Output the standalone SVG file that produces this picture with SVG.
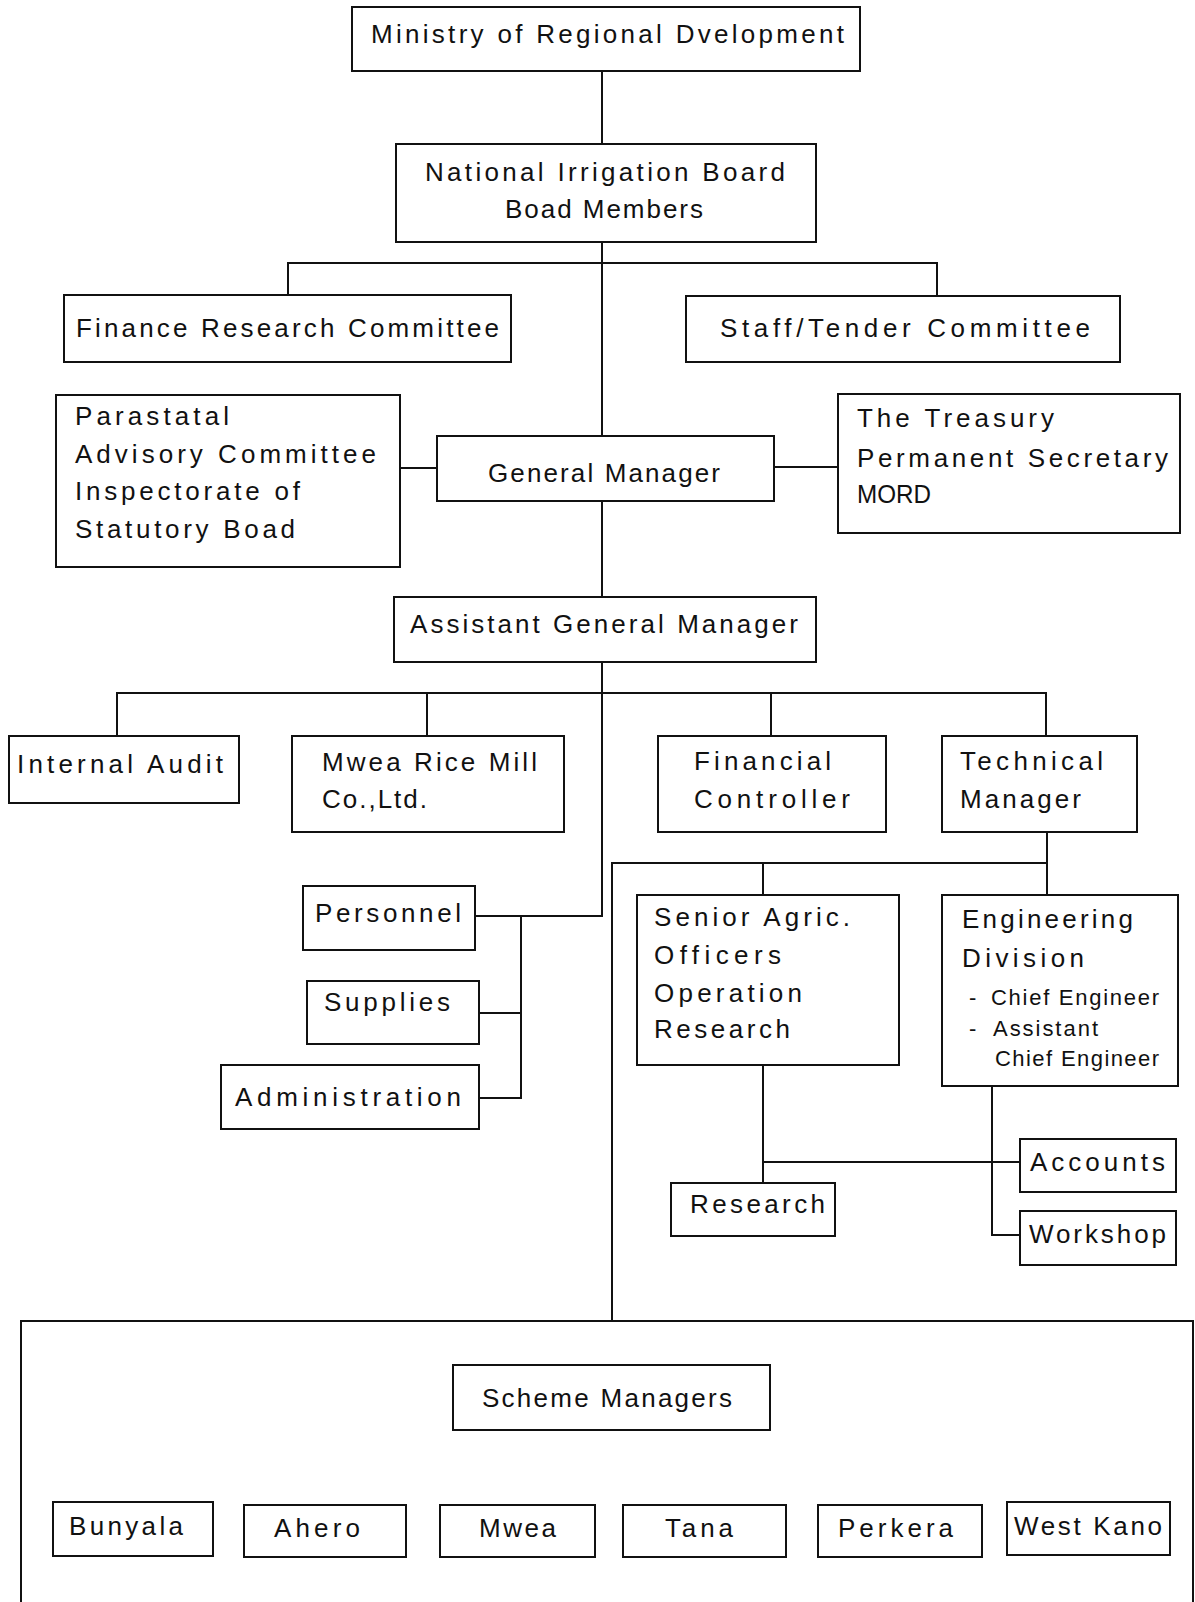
<svg xmlns="http://www.w3.org/2000/svg" width="1195" height="1602" viewBox="0 0 1195 1602">
<style>
.box{fill:#fff;stroke:#111;stroke-width:2}
.ln{fill:none;stroke:#111;stroke-width:2}
.t{font-family:"Liberation Sans",Arial,sans-serif;font-size:26px;fill:#111}
.s{font-family:"Liberation Sans",Arial,sans-serif;font-size:22px;fill:#111}
</style>
<rect width="1195" height="1602" fill="#fff"/>
<g id="connectors">
<path class="ln" d="M602,71 V144"/>
<path class="ln" d="M602,242 V436"/>
<path class="ln" d="M288,295 V263 H937 V296"/>
<path class="ln" d="M400,468 H437"/>
<path class="ln" d="M774,467 H838"/>
<path class="ln" d="M602,501 V597"/>
<path class="ln" d="M602,662 V916 H475"/>
<path class="ln" d="M117,736 V693 H1046 V736"/>
<path class="ln" d="M427,693 V736"/>
<path class="ln" d="M771,693 V736"/>
<path class="ln" d="M521,916 V1098 H479"/>
<path class="ln" d="M479,1013 H521"/>
<path class="ln" d="M1047,832 V863 H612 V1321"/>
<path class="ln" d="M763,863 V895"/>
<path class="ln" d="M1047,863 V895"/>
<path class="ln" d="M763,1065 V1183"/>
<path class="ln" d="M763,1162 H1020"/>
<path class="ln" d="M992,1086 V1235 H1020"/>
<path class="ln" d="M21,1602 V1321 H1193 V1602"/>
</g>
<g id="ministry"><rect class="box" x="352" y="7" width="508" height="64"/><text class="t" x="371" y="43" textLength="473" lengthAdjust="spacing">Ministry of Regional Dvelopment</text></g>
<g id="nib"><rect class="box" x="396" y="144" width="420" height="98"/><text class="t" x="425" y="181" textLength="360" lengthAdjust="spacing">National Irrigation Board</text><text class="t" x="505" y="218" textLength="198" lengthAdjust="spacing">Boad Members</text></g>
<g id="finance"><rect class="box" x="64" y="295" width="447" height="67"/><text class="t" x="76" y="337" textLength="423" lengthAdjust="spacing">Finance Research Committee</text></g>
<g id="staff"><rect class="box" x="686" y="296" width="434" height="66"/><text class="t" x="720" y="337" textLength="370" lengthAdjust="spacing">Staff/Tender  Committee</text></g>
<g id="parastatal"><rect class="box" x="56" y="395" width="344" height="172"/><text class="t" x="75" y="425" textLength="154" lengthAdjust="spacing">Parastatal</text><text class="t" x="75" y="463" textLength="301" lengthAdjust="spacing">Advisory Committee</text><text class="t" x="75" y="500" textLength="225" lengthAdjust="spacing">Inspectorate of</text><text class="t" x="75" y="538" textLength="220" lengthAdjust="spacing">Statutory Boad</text></g>
<g id="gm"><rect class="box" x="437" y="436" width="337" height="65"/><text class="t" x="488" y="482" textLength="232" lengthAdjust="spacing">General Manager</text></g>
<g id="treasury"><rect class="box" x="838" y="394" width="342" height="139"/><text class="t" x="857" y="427" textLength="197" lengthAdjust="spacing">The Treasury</text><text class="t" x="857" y="467" textLength="311" lengthAdjust="spacing">Permanent Secretary</text><text class="t" x="857" y="503" textLength="74" lengthAdjust="spacingAndGlyphs">MORD</text></g>
<g id="agm"><rect class="box" x="394" y="597" width="422" height="65"/><text class="t" x="410" y="633" textLength="388" lengthAdjust="spacing">Assistant General Manager</text></g>
<g id="audit"><rect class="box" x="9" y="736" width="230" height="67"/><text class="t" x="17" y="773" textLength="206" lengthAdjust="spacing">Internal Audit</text></g>
<g id="ricemill"><rect class="box" x="292" y="736" width="272" height="96"/><text class="t" x="322" y="771" textLength="215" lengthAdjust="spacing">Mwea Rice Mill</text><text class="t" x="322" y="808" textLength="105" lengthAdjust="spacing">Co.,Ltd.</text></g>
<g id="fc"><rect class="box" x="658" y="736" width="228" height="96"/><text class="t" x="694" y="770" textLength="137" lengthAdjust="spacing">Financial</text><text class="t" x="694" y="808" textLength="156" lengthAdjust="spacing">Controller</text></g>
<g id="tm"><rect class="box" x="942" y="736" width="195" height="96"/><text class="t" x="960" y="770" textLength="143" lengthAdjust="spacing">Technical</text><text class="t" x="960" y="808" textLength="121" lengthAdjust="spacing">Manager</text></g>
<g id="personnel"><rect class="box" x="303" y="886" width="172" height="64"/><text class="t" x="315" y="922" textLength="146" lengthAdjust="spacing">Personnel</text></g>
<g id="supplies"><rect class="box" x="307" y="981" width="172" height="63"/><text class="t" x="324" y="1011" textLength="126" lengthAdjust="spacing">Supplies</text></g>
<g id="administration"><rect class="box" x="221" y="1065" width="258" height="64"/><text class="t" x="235" y="1106" textLength="226" lengthAdjust="spacing">Administration</text></g>
<g id="senioragric"><rect class="box" x="637" y="895" width="262" height="170"/><text class="t" x="654" y="926" textLength="196" lengthAdjust="spacing">Senior Agric.</text><text class="t" x="654" y="964" textLength="127" lengthAdjust="spacing">Officers</text><text class="t" x="654" y="1002" textLength="148" lengthAdjust="spacing">Operation</text><text class="t" x="654" y="1038" textLength="136" lengthAdjust="spacing">Research</text></g>
<g id="engineering"><rect class="box" x="942" y="895" width="236" height="191"/><text class="t" x="962" y="928" textLength="171" lengthAdjust="spacing">Engineering</text><text class="t" x="962" y="967" textLength="122" lengthAdjust="spacing">Division</text><text class="s" x="969" y="1005">-</text><text class="s" x="991" y="1005" textLength="168" lengthAdjust="spacing">Chief Engineer</text><text class="s" x="969" y="1036">-</text><text class="s" x="993" y="1036" textLength="105" lengthAdjust="spacing">Assistant</text><text class="s" x="995" y="1066" textLength="164" lengthAdjust="spacing">Chief Engineer</text></g>
<g id="research"><rect class="box" x="671" y="1183" width="164" height="53"/><text class="t" x="690" y="1213" textLength="135" lengthAdjust="spacing">Research</text></g>
<g id="accounts"><rect class="box" x="1020" y="1139" width="156" height="53"/><text class="t" x="1030" y="1171" textLength="135" lengthAdjust="spacing">Accounts</text></g>
<g id="workshop"><rect class="box" x="1020" y="1211" width="156" height="54"/><text class="t" x="1029" y="1243" textLength="137" lengthAdjust="spacing">Workshop</text></g>
<g id="scheme"><rect class="box" x="453" y="1365" width="317" height="65"/><text class="t" x="482" y="1407" textLength="250" lengthAdjust="spacing">Scheme Managers</text></g>
<g id="bunyala"><rect class="box" x="53" y="1502" width="160" height="54"/><text class="t" x="69" y="1535" textLength="114" lengthAdjust="spacing">Bunyala</text></g>
<g id="ahero"><rect class="box" x="244" y="1505" width="162" height="52"/><text class="t" x="274" y="1537" textLength="86" lengthAdjust="spacing">Ahero</text></g>
<g id="mwea"><rect class="box" x="440" y="1505" width="155" height="52"/><text class="t" x="479" y="1537" textLength="77" lengthAdjust="spacing">Mwea</text></g>
<g id="tana"><rect class="box" x="623" y="1505" width="163" height="52"/><text class="t" x="665" y="1537" textLength="68" lengthAdjust="spacing">Tana</text></g>
<g id="perkera"><rect class="box" x="818" y="1505" width="164" height="52"/><text class="t" x="838" y="1537" textLength="115" lengthAdjust="spacing">Perkera</text></g>
<g id="westkano"><rect class="box" x="1007" y="1502" width="163" height="53"/><text class="t" x="1014" y="1535" textLength="148" lengthAdjust="spacing">West Kano</text></g>
</svg>
